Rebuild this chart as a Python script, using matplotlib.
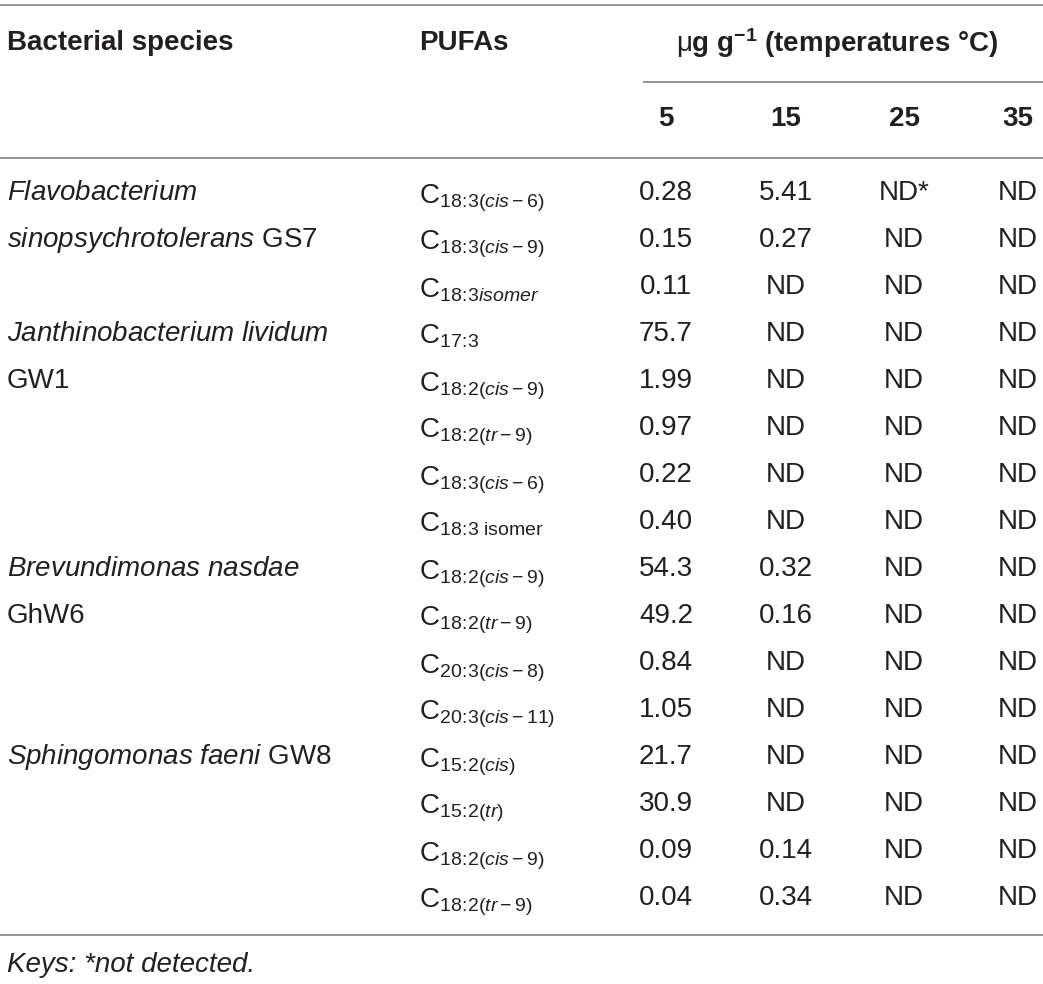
import matplotlib
matplotlib.use("Agg")
import matplotlib.pyplot as plt

plt.rcParams['font.family'] = ['Liberation Sans', 'DejaVu Sans']
plt.rcParams['mathtext.fontset'] = 'custom'
plt.rcParams['mathtext.rm'] = 'Liberation Sans'
plt.rcParams['mathtext.it'] = 'Liberation Sans:italic'
plt.rcParams['mathtext.bf'] = 'Liberation Sans:bold'
plt.rcParams['mathtext.sf'] = 'Liberation Sans'

# ---------------- data ----------------
col_headers = ["Bacterial species", "PUFAs"]
temperatures = ["5", "15", "25", "35"]
unit_header = r"$\mathrm{\mu}$$\mathbf{g\ g^{-1}}$ (temperatures °C)"

species_lines = [
    (0, r"$\mathit{Flavobacterium}$"),
    (1, r"$\mathit{sinopsychrotolerans}$ GS7"),
    (3, r"$\mathit{Janthinobacterium\ lividum}$"),
    (4, "GW1"),
    (8, r"$\mathit{Brevundimonas\ nasdae}$"),
    (9, "GhW6"),
    (12, r"$\mathit{Sphingomonas\ faeni}$ GW8"),
]

C = r"\!:\!"
pufas = [
    r"C$_{18" + C + r"3(\mathit{cis}-6)}$",
    r"C$_{18" + C + r"3(\mathit{cis}-9)}$",
    r"C$_{18" + C + r"3\mathit{isomer}}$",
    r"C$_{17" + C + r"3}$",
    r"C$_{18" + C + r"2(\mathit{cis}-9)}$",
    r"C$_{18" + C + r"2(\mathit{tr}-9)}$",
    r"C$_{18" + C + r"3(\mathit{cis}-6)}$",
    r"C$_{18" + C + r"3\ \mathrm{isomer}}$",
    r"C$_{18" + C + r"2(\mathit{cis}-9)}$",
    r"C$_{18" + C + r"2(\mathit{tr}-9)}$",
    r"C$_{20" + C + r"3(\mathit{cis}-8)}$",
    r"C$_{20" + C + r"3(\mathit{cis}-11)}$",
    r"C$_{15" + C + r"2(\mathit{cis})}$",
    r"C$_{15" + C + r"2(\mathit{tr})}$",
    r"C$_{18" + C + r"2(\mathit{cis}-9)}$",
    r"C$_{18" + C + r"2(\mathit{tr}-9)}$",
]

val_5 = ["0.28", "0.15", "0.11", "75.7", "1.99", "0.97", "0.22", "0.40",
         "54.3", "49.2", "0.84", "1.05", "21.7", "30.9", "0.09", "0.04"]
val_15 = ["5.41", "0.27", "ND", "ND", "ND", "ND", "ND", "ND",
          "0.32", "0.16", "ND", "ND", "ND", "ND", "0.14", "0.34"]
val_25 = ["ND*"] + ["ND"] * 15
val_35 = ["ND"] * 16

footnote = "Keys: *not detected."

# ---------------- layout ----------------
W, H = 1043, 984
fig = plt.figure(figsize=(W / 100, H / 100), dpi=100)
ax = fig.add_axes([0, 0, 1, 1])
ax.set_xlim(0, W)
ax.set_ylim(H, 0)
ax.axis('off')

txt = '#231f20'
line_c = '#8a8a8a'
fs = 20

x_species = 7
x_pufa = 419
x_cols = [666, 786, 904, 1018]
y_header = 43
y_temp = 119
y_row0 = 193
dy = 47

# rules
for (x0, x1, y) in [(0, W, 5), (643, W, 82), (0, W, 158), (0, W, 935)]:
    ax.plot([x0, x1], [y, y], color=line_c, lw=1.3, solid_capstyle='butt')

# headers
ax.text(x_species, y_header, col_headers[0], fontsize=fs, fontweight='bold',
        color=txt, ha='left', va='center')
ax.text(x_pufa, y_header, col_headers[1], fontsize=fs, fontweight='bold',
        color=txt, ha='left', va='center')
ax.text(837, y_header, unit_header, fontsize=fs, fontweight='bold',
        color=txt, ha='center', va='center')
for x, t in zip(x_cols, temperatures):
    ax.text(x, y_temp, t, fontsize=fs, fontweight='bold', color=txt,
            ha='center', va='center')

# species
for r, s in species_lines:
    ax.text(x_species, y_row0 + r * dy, s, fontsize=fs, color=txt,
            ha='left', va='center')

# rows
for i, p in enumerate(pufas):
    y = y_row0 + i * dy
    ax.text(x_pufa, y + 10, p, fontsize=fs, color=txt, ha='left', va='baseline')
    for x, col in zip(x_cols, (val_5, val_15, val_25, val_35)):
        ax.text(x, y, col[i], fontsize=fs, color=txt, ha='center', va='center')

ax.text(x_species, 965, footnote, fontsize=fs, style='italic', color=txt,
        ha='left', va='center')

fig.savefig('out.png', dpi=100)
